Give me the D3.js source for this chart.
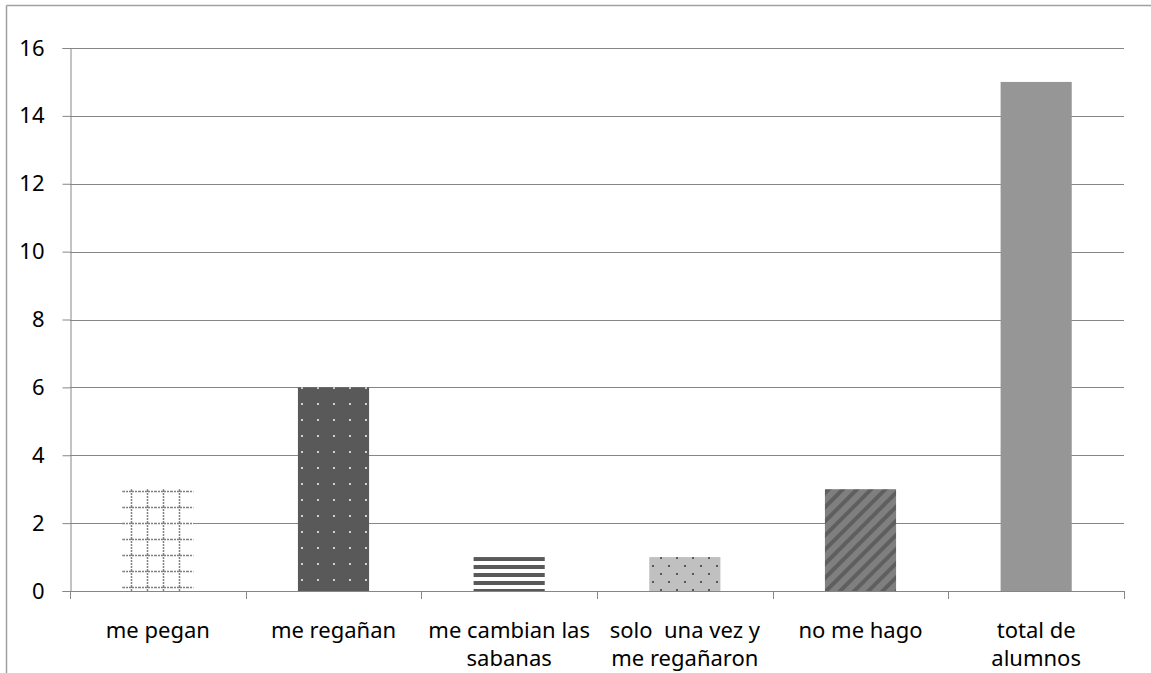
<!DOCTYPE html>
<html lang="es">
<head>
  <meta charset="UTF-8" />
  <title>Gráfico</title>
  <script src="https://d3js.org/d3.v7.min.js"></script>
  <style>
    body { margin: 0; background: #fff; }
    svg text { font-family: "Noto Sans", "Open Sans", sans-serif; fill: #000; }
  </style>
</head>
<body>
  <svg id="chart" width="1151" height="673"></svg>
  <script>
    // datos
    const categories = ["me pegan", "me regañan", "me cambian las sabanas", "solo  una vez y me regañaron", "no me hago", "total de alumnos"];
    const labelLines = [["me pegan"], ["me regañan"], ["me cambian las", "sabanas"], ["solo \u00a0una vez y", "me regañaron"], ["no me hago"], ["total de", "alumnos"]];
    const values = [3, 6, 1, 1, 3, 15];
    const yTicks = [0, 2, 4, 6, 8, 10, 12, 14, 16];
    const fills = ["url(#pGrid)", "url(#pDots)", "url(#pHoriz)", "url(#pSmallDots)", "url(#pDiag)", "#969696"];

    const svg = d3.select("#chart");
    const margin = { left: 70, right: 1124, top: 48, bottom: 591 };

    // marco exterior
    svg.append("line").attr("x1", 6.5).attr("x2", 6.5).attr("y1", 5.5).attr("y2", 673)
      .attr("stroke", "#a0a0a0").attr("stroke-width", 1.5);
    svg.append("line").attr("x1", 6.5).attr("x2", 1151).attr("y1", 5.5).attr("y2", 5.5)
      .attr("stroke", "#a0a0a0").attr("stroke-width", 1.5);

    // patrones
    const defs = svg.append("defs");
    const grid = defs.append("pattern").attr("id", "pGrid").attr("patternUnits", "userSpaceOnUse")
      .attr("width", 16).attr("height", 16).attr("x", 123).attr("y", 490);
    grid.append("rect").attr("width", 16).attr("height", 16).attr("fill", "#fff");
    grid.append("line").attr("x1", 0).attr("x2", 16).attr("y1", 1.5).attr("y2", 1.5)
      .attr("stroke", "#808080").attr("stroke-width", 1.5).attr("stroke-dasharray", "2,1");
    grid.append("line").attr("x1", 8.5).attr("x2", 8.5).attr("y1", 0).attr("y2", 16)
      .attr("stroke", "#808080").attr("stroke-width", 1.5).attr("stroke-dasharray", "2,1");

    const dots = defs.append("pattern").attr("id", "pDots").attr("patternUnits", "userSpaceOnUse")
      .attr("width", 16).attr("height", 16).attr("x", 294).attr("y", 380);
    dots.append("rect").attr("width", 16).attr("height", 16).attr("fill", "#595959");
    dots.append("rect").attr("x", 7).attr("y", 7).attr("width", 2).attr("height", 2).attr("fill", "#d0d0d0");

    const horiz = defs.append("pattern").attr("id", "pHoriz").attr("patternUnits", "userSpaceOnUse")
      .attr("width", 8).attr("height", 8).attr("x", 0).attr("y", 557);
    horiz.append("rect").attr("width", 8).attr("height", 8).attr("fill", "#fff");
    horiz.append("rect").attr("width", 8).attr("height", 4).attr("fill", "#595959");

    const sdots = defs.append("pattern").attr("id", "pSmallDots").attr("patternUnits", "userSpaceOnUse")
      .attr("width", 16).attr("height", 16).attr("x", 650).attr("y", 557);
    sdots.append("rect").attr("width", 16).attr("height", 16).attr("fill", "#c0c0c0");
    sdots.append("rect").attr("x", 10).attr("y", 0).attr("width", 2).attr("height", 2).attr("fill", "#595959");
    sdots.append("rect").attr("x", 2).attr("y", 8).attr("width", 2).attr("height", 2).attr("fill", "#595959");

    const diag = defs.append("pattern").attr("id", "pDiag").attr("patternUnits", "userSpaceOnUse")
      .attr("width", 10).attr("height", 10).attr("patternTransform", "rotate(45)");
    diag.append("rect").attr("width", 10).attr("height", 10).attr("fill", "#7f7f7f");
    diag.append("rect").attr("width", 4).attr("height", 10).attr("fill", "#5f5f5f");

    // escalas
    const x = d3.scaleBand().domain(categories).range([margin.left, margin.right]).paddingInner(0).paddingOuter(0);
    const y = d3.scaleLinear().domain([0, 16]).range([margin.bottom, margin.top]);
    const barW = x.bandwidth() * 0.405;

    // líneas de cuadrícula
    svg.append("g").selectAll("line").data(yTicks.filter(d => d > 0)).join("line")
      .attr("x1", margin.left).attr("x2", margin.right)
      .attr("y1", d => Math.round(y(d)) + 0.5).attr("y2", d => Math.round(y(d)) + 0.5)
      .attr("stroke", "#868686").attr("stroke-width", 1);

    // barras
    svg.append("g").selectAll("rect").data(values).join("rect")
      .attr("x", (d, i) => x(categories[i]) + (x.bandwidth() - barW) / 2)
      .attr("width", barW)
      .attr("y", d => y(d))
      .attr("height", d => y(0) - y(d))
      .attr("fill", (d, i) => fills[i]);

    // eje Y
    const yAxis = svg.append("g").attr("transform", `translate(${margin.left + 0.5},0)`)
      .call(d3.axisLeft(y).tickValues(yTicks).tickSize(8).tickPadding(18).tickFormat(d3.format("d")));
    yAxis.select(".domain").attr("stroke", "#868686");
    yAxis.selectAll(".tick line").attr("stroke", "#868686");
    yAxis.selectAll("text").style("font-size", "22px").attr("fill", "#000");

    // eje X
    const xAxisG = svg.append("g");
    xAxisG.append("line").attr("x1", margin.left).attr("x2", margin.right)
      .attr("y1", margin.bottom + 0.5).attr("y2", margin.bottom + 0.5).attr("stroke", "#868686");
    const bounds = categories.map(c => x(c)).concat([margin.right]);
    xAxisG.selectAll("line.tk").data(bounds).join("line").attr("class", "tk")
      .attr("x1", d => Math.round(d) + 0.5).attr("x2", d => Math.round(d) + 0.5)
      .attr("y1", margin.bottom).attr("y2", margin.bottom + 8).attr("stroke", "#868686");

    const lbl = xAxisG.selectAll("text.lbl").data(categories).join("text").attr("class", "lbl")
      .attr("x", c => x(c) + x.bandwidth() / 2)
      .attr("y", 638)
      .attr("text-anchor", "middle")
      .style("font-size", "22px");
    lbl.each(function (c, i) {
      d3.select(this).selectAll("tspan").data(labelLines[i]).join("tspan")
        .attr("x", x(c) + x.bandwidth() / 2)
        .attr("dy", (d, j) => j === 0 ? 0 : 28)
        .text(d => d);
    });
  </script>
</body>
</html>
